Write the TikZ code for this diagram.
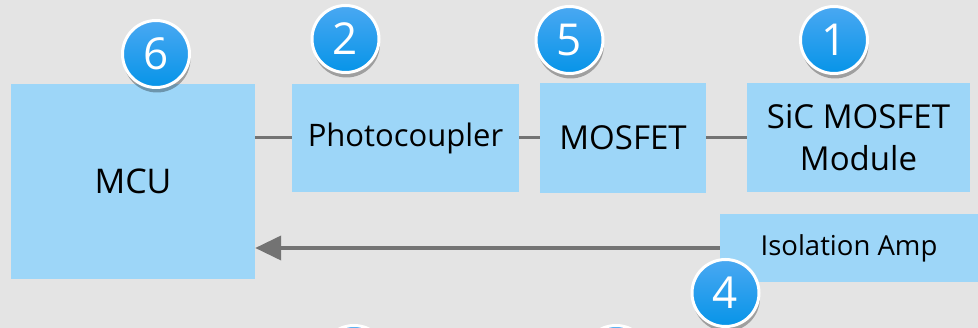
\documentclass[tikz,border=0pt]{standalone}
\usepackage{fontspec}
\setmainfont{Open Sans}
\usetikzlibrary{arrows.meta,shadows}
\definecolor{bg}{HTML}{E4E4E4}
\definecolor{boxfill}{HTML}{9DD6F8}
\definecolor{linec}{HTML}{737373}
\definecolor{ctop}{HTML}{4AA8F2}
\definecolor{cbot}{HTML}{0794E8}
\begin{document}
\begin{tikzpicture}[x=1pt,y=-1pt,
  blk/.style={fill=boxfill, inner sep=0pt, align=center, text=black},
  badge/.style={circle, minimum size=67pt, inner sep=0pt, draw=white, line width=3pt,
    top color=ctop, bottom color=cbot, text=white, font=\fontsize{44}{44}\selectfont,
    drop shadow={shadow xshift=1pt, shadow yshift=-5pt, opacity=0.3, fill=black}},
  conn/.style={draw=linec, line width=3pt},
  arr/.style={draw=linec, line width=4pt, -{Triangle[length=26pt,width=24pt]}}]
\useasboundingbox (0,0) rectangle (978,328);
\clip (0,0) rectangle (978,328);
\fill[bg] (0,0) rectangle (978,328);
% blocks
\node[blk, minimum width=244pt, minimum height=195pt, font=\fontsize{34}{40}\selectfont] (mcu) at (133,181.5) {MCU};
\node[blk, minimum width=227pt, minimum height=108pt, font=\fontsize{31}{36}\selectfont] (pc) at (405.5,138) {Photocoupler};
\node[blk, minimum width=166pt, minimum height=110pt, font=\fontsize{33}{40}\selectfont] (mos) at (623,138) {MOSFET};
\node[blk, minimum width=223pt, minimum height=109pt, font=\fontsize{33}{42}\selectfont] (sic) at (858.5,138) {SiC MOSFET\\Module};
\node[blk, minimum width=258pt, minimum height=68pt, font=\fontsize{27.5}{32}\selectfont] (iso) at (849,248) {Isolation Amp};
% connectors
\draw[conn] (mcu.east |- pc.west) -- (pc.west);
\draw[conn] (pc.east) -- (mos.west);
\draw[conn] (mos.east) -- (sic.west);
\draw[arr] (iso.west) -- (mcu.east |- iso.west);
% badges
\node[badge] (b6) at (156,54) {6};
\node[badge] (b2) at (345.5,39) {2};
\node[badge] (b5) at (569.5,40) {5};
\node[badge] (b1) at (834,40) {1};
\node[badge] (b4) at (725.5,293) {4};
\node[badge] (b7) at (354,359) {};
\node[badge] (b8) at (616,359) {};
\end{tikzpicture}
\end{document}
